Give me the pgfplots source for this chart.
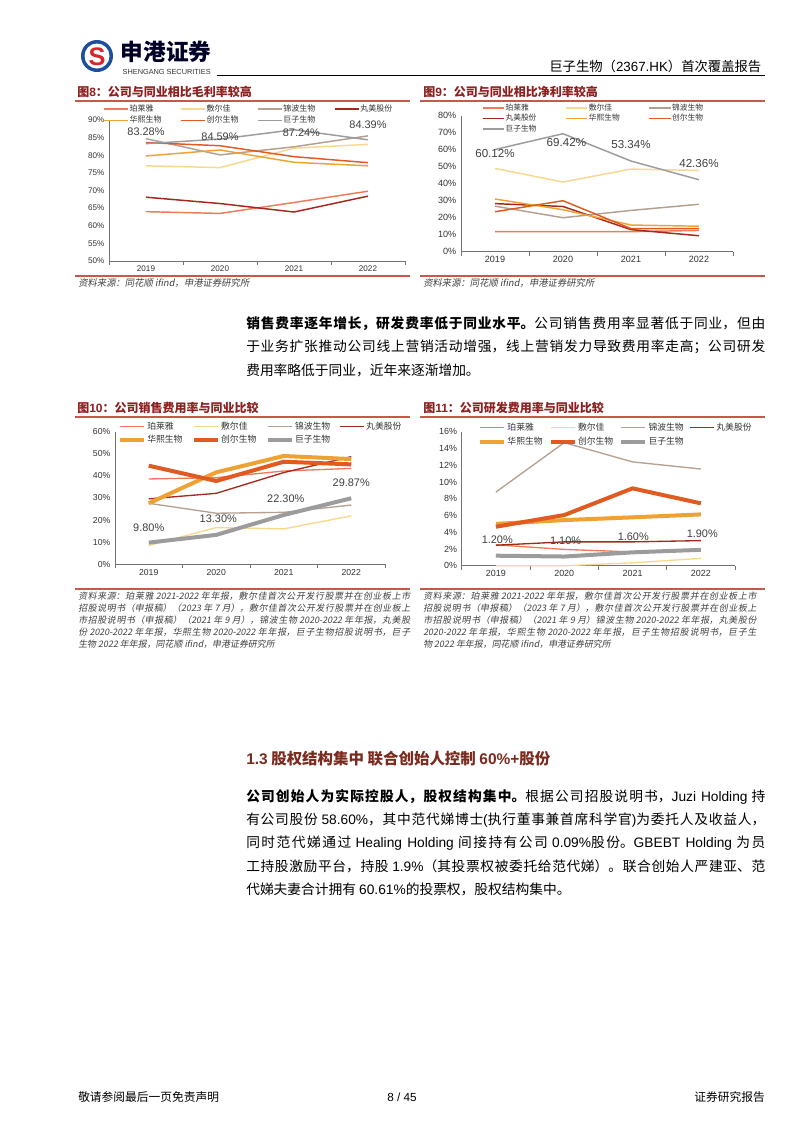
\documentclass[border=0pt]{standalone}
\usepackage{pgfplots}
\pgfplotsset{compat=1.18}
\usepackage{fontspec}
\setmainfont{Noto Sans CJK SC}
\newfontfamily\arial{Liberation Sans}
\newfontfamily\cjkit[FakeSlant=0.18]{Noto Sans CJK SC}
\XeTeXlinebreaklocale "zh"
\XeTeXlinebreakskip=0pt plus 1.5pt
\newcommand\fs[1]{\fontsize{#1}{#1}\selectfont}
\newcommand\jline[2]{\parbox{#1}{\parfillskip=0pt #2}}

\definecolor{cPLY}{HTML}{F2785A}
\definecolor{cFEJ}{HTML}{F7D88E}
\definecolor{cJB}{HTML}{B5A090}
\definecolor{cWM}{HTML}{A5281C}
\definecolor{cHX}{HTML}{EFA234}
\definecolor{cCE}{HTML}{E05A22}
\definecolor{cJZ}{HTML}{9C9C9C}
\definecolor{titred}{HTML}{8E1F1F}
\definecolor{rulered}{HTML}{C9574A}
\definecolor{headbrown}{HTML}{7B2A1E}
\definecolor{logoblue}{HTML}{1E4F9C}
\definecolor{logored}{HTML}{D7262A}

\tikzset{dlab/.style={font=\arial\fs{8.2}, text=black!75, inner sep=1pt}}
\pgfplotsset{
 pagechart/.style={
  scale only axis, clip=false,
  axis x line*=bottom, axis y line*=left,
  axis line style={draw=black!55, line width=0.55pt},
  xmin=-0.5, xmax=3.5,
  xtick={0,1,2,3}, xticklabels={2019,2020,2021,2022},
  major tick length=0pt,
  extra x ticks={-0.5,0.5,1.5,2.5,3.5},
  extra x tick labels={},
  extra x tick style={major tick length=3pt, tick align=outside, tick style={draw=black!55, line width=0.5pt}},
  /pgf/number format/assume math mode=true,
  yticklabel={\pgfmathprintnumber{\tick}\%},
  tick label style={font=\arial\fs{6.4}, text=black!80},
  no markers,
  legend cell align=left,
  legend style={draw=none, fill=none, inner sep=0pt, outer sep=0pt, anchor=north west, text=black!80, nodes={inner sep=1pt}},
  legend image code/.code={\draw[##1] (0pt,0pt) -- (18pt,0pt);},
 },
}

\begin{document}
\begin{tikzpicture}
\begin{scope}[x=0.75pt,y=-0.75pt]
\fill[white] (0,0) rectangle (802,1133);
% header
\fill[logoblue] (97,56) circle (16);
\fill[white] (97,56) circle (12.5);
\node[text=logored, font=\arial\bfseries\fs{19}] at (97,57) {S};
\node[anchor=west, font=\bfseries\fs{17}, text=black!85!blue] at (116,52) {申港证券};
\node[anchor=west, font=\arial\fs{5.5}, text=black!80] at (118,72) {SHENGANG SECURITIES};
\draw[black, line width=0.7] (217,75) -- (765,75);
\node[anchor=east, font=\fs{10}] at (766,66) {巨子生物（{\arial 2367.HK}）首次覆盖报告};
% titles
\node[anchor=west, font=\bfseries\fs{9}, text=titred, inner sep=0] at (77,92) {图{\arial\bfseries 8}：公司与同业相比毛利率较高};
\node[anchor=west, font=\bfseries\fs{9}, text=titred, inner sep=0] at (423,92) {图{\arial\bfseries 9}：公司与同业相比净利率较高};
\draw[rulered, line width=0.8] (75,101) -- (410,101);
\draw[rulered, line width=0.8] (420,101) -- (765,101);
\draw[rulered, line width=0.8] (75,276) -- (410,276);
\draw[rulered, line width=0.8] (420,276) -- (765,276);
\node[anchor=west, font=\cjkit\fs{7}, text=black!75, inner sep=0] at (78,283) {资料来源：同花顺 ifind，申港证券研究所};
\node[anchor=west, font=\cjkit\fs{7}, text=black!75, inner sep=0] at (423,283) {资料来源：同花顺 ifind，申港证券研究所};
% paragraph 1
\node[anchor=west, inner sep=0] at (246,324) {\jline{389.25pt}{\fs{10.3}\textbf{销售费率逐年增长，研发费率低于同业水平。}公司销售费用率显著低于同业，但由}};
\node[anchor=west, inner sep=0] at (246,347) {\jline{389.25pt}{\fs{10.3}于业务扩张推动公司线上营销活动增强，线上营销发力导致费用率走高；公司研发}};
\node[anchor=west, inner sep=0] at (246,370) {\fs{10.3}费用率略低于同业，近年来逐渐增加。};
% titles 10/11
\node[anchor=west, font=\bfseries\fs{9}, text=titred, inner sep=0] at (77,408) {图{\arial\bfseries 10}：公司销售费用率与同业比较};
\node[anchor=west, font=\bfseries\fs{9}, text=titred, inner sep=0] at (423,408) {图{\arial\bfseries 11}：公司研发费用率与同业比较};
\draw[rulered, line width=0.8] (75,417) -- (410,417);
\draw[rulered, line width=0.8] (420,417) -- (765,417);
\draw[rulered, line width=0.8] (75,589) -- (410,589);
\draw[rulered, line width=0.8] (420,589) -- (765,589);
% footnotes 10
\begin{scope}[every node/.style={anchor=west, inner sep=0, text=black!75}]
\node at (78,596) {\jline{249pt}{\cjkit\fs{6.7}资料来源：珀莱雅 2021-2022 年年报，敷尔佳首次公开发行股票并在创业板上市}};
\node at (78,608) {\jline{249pt}{\cjkit\fs{6.7}招股说明书（申报稿）（2023 年 7 月），敷尔佳首次公开发行股票并在创业板上}};
\node at (78,620) {\jline{249pt}{\cjkit\fs{6.7}市招股说明书（申报稿）（2021 年 9 月），锦波生物 2020-2022 年年报，丸美股}};
\node at (78,632) {\jline{249pt}{\cjkit\fs{6.7}份 2020-2022 年年报，华熙生物 2020-2022 年年报，巨子生物招股说明书，巨子}};
\node at (78,644) {\cjkit\fs{6.7}生物 2022 年年报，同花顺 ifind，申港证券研究所};
\node at (423,596) {\jline{250pt}{\cjkit\fs{6.7}资料来源：珀莱雅 2021-2022 年年报，敷尔佳首次公开发行股票并在创业板上市}};
\node at (423,608) {\jline{250pt}{\cjkit\fs{6.7}招股说明书（申报稿）（2023 年 7 月），敷尔佳首次公开发行股票并在创业板上}};
\node at (423,620) {\jline{250pt}{\cjkit\fs{6.7}市招股说明书（申报稿）（2021 年 9 月）锦波生物 2020-2022 年年报，丸美股份}};
\node at (423,632) {\jline{250pt}{\cjkit\fs{6.7}2020-2022 年年报，华熙生物 2020-2022 年年报，巨子生物招股说明书，巨子生}};
\node at (423,644) {\cjkit\fs{6.7}物 2022 年年报，同花顺 ifind，申港证券研究所};
\end{scope}
% section heading
\node[anchor=west, font=\bfseries\fs{11.6}, text=headbrown, inner sep=0] at (246,759) {{\arial\bfseries 1.3} 股权结构集中 联合创始人控制 {\arial\bfseries 60\%+}股份};
% paragraph 2
\node[anchor=west, inner sep=0] at (246,797) {\jline{389.25pt}{\fs{10.3}\textbf{公司创始人为实际控股人，股权结构集中。}根据公司招股说明书，{\arial Juzi Holding} 持}};
\node[anchor=west, inner sep=0] at (246,820) {\jline{389.25pt}{\fs{10.3}有公司股份 {\arial 58.60\%}，其中范代娣博士{\arial (}执行董事兼首席科学官{\arial )}为委托人及收益人，}};
\node[anchor=west, inner sep=0] at (246,843) {\jline{389.25pt}{\fs{10.3}同时范代娣通过 {\arial Healing Holding} 间接持有公司 {\arial 0.09\%}股份。{\arial GBEBT Holding} 为员}};
\node[anchor=west, inner sep=0] at (246,866) {\jline{389.25pt}{\fs{10.3}工持股激励平台，持股 {\arial 1.9\%}（其投票权被委托给范代娣）。联合创始人严建亚、范}};
\node[anchor=west, inner sep=0] at (246,889) {\fs{10.3}代娣夫妻合计拥有 {\arial 60.61\%}的投票权，股权结构集中。};
% footer
\node[anchor=west, font=\fs{8.8}, inner sep=0] at (78,1097) {敬请参阅最后一页免责声明};
\node[font=\arial\fs{8.8}, inner sep=0] at (402,1097) {8 / 45};
\node[anchor=east, font=\fs{8.8}, inner sep=0] at (765,1097) {证券研究报告};
\end{scope}

% ---------- Chart 8 ----------
\begin{axis}[pagechart, at={(81.75pt,-195.75pt)}, anchor=south west,
  width=222pt, height=105.75pt,
  ymin=50, ymax=90, ytick={50,55,...,90},
  tick label style={font=\arial\fs{6.1}},
  every axis plot/.append style={line width=1.1pt},
  legend columns=4,
  legend style={at={(-0.02,1.118)}, font=\fs{6}, row sep=0.6pt, nodes={inner sep=0.8pt},
    /tikz/every even column/.append style={column sep=13pt}},
]
\addplot[cPLY] coordinates {(0,64.0) (1,63.5) (2,66.6) (3,69.8)}; \addlegendentry{珀莱雅}
\addplot[cFEJ] coordinates {(0,77.0) (1,76.5) (2,82.0) (3,83.1)}; \addlegendentry{敷尔佳}
\addplot[cJB] coordinates {(0,84.7) (1,80.1) (2,82.4) (3,85.5)}; \addlegendentry{锦波生物}
\addplot[cWM] coordinates {(0,68.1) (1,66.3) (2,63.9) (3,68.4)}; \addlegendentry{丸美股份}
\addplot[cHX] coordinates {(0,79.8) (1,81.5) (2,78.0) (3,77.0)}; \addlegendentry{华熙生物}
\addplot[cCE] coordinates {(0,83.6) (1,82.7) (2,79.6) (3,77.9)}; \addlegendentry{创尔生物}
\addplot[cJZ] coordinates {(0,83.28) (1,84.59) (2,87.24) (3,84.39)}; \addlegendentry{巨子生物}
\node[dlab] at (axis cs:0,86.8) {83.28\%};
\node[dlab] at (axis cs:1,85.18) {84.59\%};
\node[dlab] at (axis cs:2.1,86.4) {87.24\%};
\node[dlab] at (axis cs:3,88.6) {84.39\%};
\end{axis}

% ---------- Chart 9 ----------
\begin{axis}[pagechart, at={(345.75pt,-188.78pt)}, anchor=south west,
  width=204pt, height=102pt,
  ymin=0, ymax=80, ytick={0,10,...,80},
  tick label style={font=\arial\fs{6.8}},
  every axis plot/.append style={line width=1.1pt},
  legend columns=3,
  legend style={at={(0.077,1.095)}, font=\fs{5.8}, row sep=0.3pt, nodes={inner sep=0.6pt},
    /tikz/every even column/.append style={column sep=21pt}},
  legend image code/.code={\draw[#1] (0pt,0pt) -- (16pt,0pt);},
]
\addplot[cPLY] coordinates {(0,11.8) (1,11.8) (2,11.8) (3,12.5)}; \addlegendentry{珀莱雅}
\addplot[cFEJ] coordinates {(0,49.0) (1,41.0) (2,48.6) (3,47.8)}; \addlegendentry{敷尔佳}
\addplot[cJB] coordinates {(0,26.8) (1,20.0) (2,24.3) (3,27.9)}; \addlegendentry{锦波生物}
\addplot[cWM] coordinates {(0,28.3) (1,26.6) (2,13.0) (3,9.4)}; \addlegendentry{丸美股份}
\addplot[cHX] coordinates {(0,31.0) (1,24.7) (2,15.7) (3,15.0)}; \addlegendentry{华熙生物}
\addplot[cCE] coordinates {(0,23.5) (1,30.0) (2,13.6) (3,13.6)}; \addlegendentry{创尔生物}
\addplot[cJZ] coordinates {(0,60.12) (1,69.42) (2,53.34) (3,42.36)}; \addlegendentry{巨子生物}
\node[dlab, font=\arial\fs{8.7}] at (axis cs:0,57.5) {60.12\%};
\node[dlab, font=\arial\fs{8.7}] at (axis cs:1.05,64.5) {69.42\%};
\node[dlab, font=\arial\fs{8.7}] at (axis cs:2,62.8) {53.34\%};
\node[dlab, font=\arial\fs{8.7}] at (axis cs:3,51.6) {42.36\%};
\end{axis}

% ---------- Chart 10 ----------
\begin{axis}[pagechart, at={(86.25pt,-423.2pt)}, anchor=south west,
  width=202.5pt, height=99.45pt,
  ymin=0, ymax=60, ytick={0,10,...,60},
  tick label style={font=\arial\fs{6.5}},
  legend columns=4,
  legend style={at={(0.011,1.086)}, font=\fs{6.6}, row sep=1.2pt,
    /tikz/every even column/.append style={column sep=6pt}},
]
\addplot[cPLY, line width=1pt] coordinates {(0,38.6) (1,39.2) (2,42.2) (3,43.4)}; \addlegendentry{珀莱雅}
\addplot[cFEJ, line width=1pt] coordinates {(0,8.5) (1,16.6) (2,16.0) (3,21.9)}; \addlegendentry{敷尔佳}
\addplot[cJB, line width=1pt] coordinates {(0,27.6) (1,23.1) (2,23.5) (3,26.8)}; \addlegendentry{锦波生物}
\addplot[cWM, line width=1pt] coordinates {(0,29.6) (1,32.1) (2,41.5) (3,48.7)}; \addlegendentry{丸美股份}
\addplot[cHX, line width=3pt] coordinates {(0,27.6) (1,41.6) (2,49.0) (3,47.6)}; \addlegendentry{华熙生物}
\addplot[cCE, line width=3pt] coordinates {(0,44.6) (1,37.7) (2,46.4) (3,45.2)}; \addlegendentry{创尔生物}
\addplot[cJZ, line width=3pt] coordinates {(0,9.8) (1,13.3) (2,22.3) (3,29.87)}; \addlegendentry{巨子生物}
\node[dlab] at (axis cs:0,16.4) {9.80\%};
\node[dlab] at (axis cs:1.03,20.5) {13.30\%};
\node[dlab] at (axis cs:2.03,29.5) {22.30\%};
\node[dlab] at (axis cs:3,36.8) {29.87\%};
\end{axis}

% ---------- Chart 11 ----------
\begin{axis}[pagechart, at={(346.3pt,-424.3pt)}, anchor=south west,
  width=205pt, height=100.5pt,
  ymin=0, ymax=16, ytick={0,2,...,16},
  tick label style={font=\arial\fs{6.7}},
  legend columns=4,
  legend style={at={(0.06,1.078)}, font=\fs{6.6}, row sep=1.9pt,
    /tikz/every even column/.append style={column sep=3.5pt}},
]
\addplot[cPLY, line width=1pt] coordinates {(0,2.5) (1,1.95) (2,1.65) (3,1.8)}; \addlegendentry{珀莱雅}
\addplot[cFEJ, line width=1pt] coordinates {(0,0.0) (1,0.0) (2,0.35) (3,0.88)}; \addlegendentry{敷尔佳}
\addplot[cJB, line width=1pt] coordinates {(0,8.8) (1,14.7) (2,12.4) (3,11.55)}; \addlegendentry{锦波生物}
\addplot[cWM, line width=1pt] coordinates {(0,2.45) (1,2.85) (2,2.85) (3,3.0)}; \addlegendentry{丸美股份}
\addplot[cHX, line width=3pt] coordinates {(0,5.0) (1,5.45) (2,5.78) (3,6.13)}; \addlegendentry{华熙生物}
\addplot[cCE, line width=3pt] coordinates {(0,4.66) (1,6.05) (2,9.24) (3,7.45)}; \addlegendentry{创尔生物}
\addplot[cJZ, line width=3pt] coordinates {(0,1.2) (1,1.1) (2,1.6) (3,1.9)}; \addlegendentry{巨子生物}
\node[dlab] at (axis cs:0.02,3.07) {1.20\%};
\node[dlab] at (axis cs:1.02,2.95) {1.10\%};
\node[dlab] at (axis cs:2.01,3.43) {1.60\%};
\node[dlab] at (axis cs:3.02,3.79) {1.90\%};
\end{axis}
\end{tikzpicture}
\end{document}
